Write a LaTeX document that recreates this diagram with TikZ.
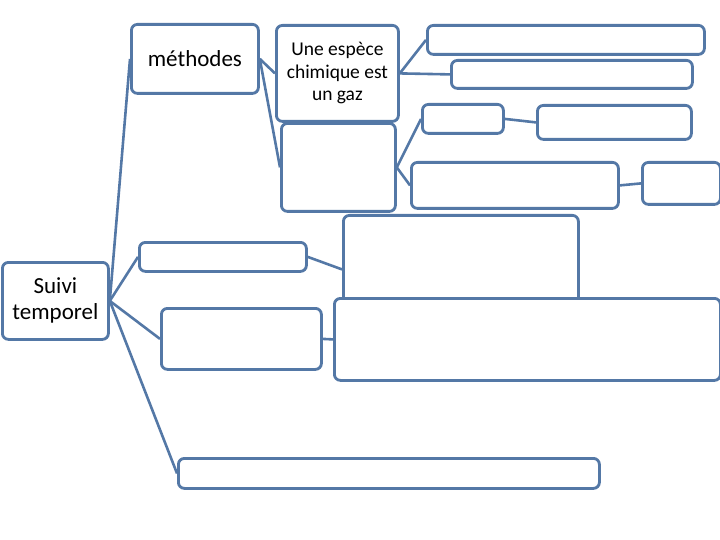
\documentclass[tikz,border=0pt]{standalone}
\usepackage{fontspec}
\setmainfont{Carlito}
\definecolor{edge}{RGB}{84,120,166}
\begin{document}
\begin{tikzpicture}[x=1pt,y=-1pt,
  box/.style={draw=edge,fill=white,line width=2.8pt,rounded corners=6pt,anchor=north west,inner sep=0pt},
  link/.style={draw=edge,line width=2.6pt}]
\useasboundingbox (0,0) rectangle (720,540);
% boxes: at (x,y) top-left, width, height
\node[box,minimum width=127pt,minimum height=69pt] (meth) at (130,23) {};
\node[font=\fontsize{23}{26}\selectfont] at (meth.center) {méthodes};
\node[box,minimum width=122pt,minimum height=96pt] (gaz) at (275,24) {};
\node[font=\fontsize{19.5}{22.5}\selectfont,align=center] at (gaz.center) {Une espèce\\chimique est\\un gaz};
\node[box,minimum width=114pt,minimum height=88pt] (vide) at (280,122) {};
\node[box,minimum width=277pt,minimum height=29pt] (b1) at (426,24) {};
\node[box,minimum width=241pt,minimum height=28pt] (b2) at (450,59) {};
\node[box,minimum width=81pt,minimum height=29pt] (b3) at (421,103) {};
\node[box,minimum width=154pt,minimum height=34pt] (b4) at (536,104) {};
\node[box,minimum width=207pt,minimum height=46pt] (b5) at (410,161) {};
\node[box,minimum width=78pt,minimum height=42pt] (b6) at (641,161) {};
\node[box,minimum width=235pt,minimum height=96pt] (bA) at (342,214) {};
\node[box,minimum width=386pt,minimum height=82pt] (bB) at (333,297) {};
\node[box,minimum width=106pt,minimum height=77pt] (suivi) at (1,261) {};
\node[font=\fontsize{23}{26}\selectfont,align=center] at (suivi.center) {Suivi\\temporel};
\node[box,minimum width=167pt,minimum height=29pt] (l1) at (138,241) {};
\node[box,minimum width=160pt,minimum height=61pt] (l2) at (160,307) {};
\node[box,minimum width=421pt,minimum height=30pt] (bas) at (177,457) {};
% connectors
\draw[link] (suivi.east) -- (meth.west);
\draw[link] (meth.east) -- (gaz.west);
\draw[link] (meth.east) -- (vide.west);
\draw[link] (gaz.east) -- (b1.west);
\draw[link] (gaz.east) -- (b2.west);
\draw[link] (vide.east) -- (b3.west);
\draw[link] (vide.east) -- (b5.west);
\draw[link] (b3.east) -- (b4.west);
\draw[link] (b5.east) -- (b6.west);
\draw[link] (suivi.east) -- (l1.west);
\draw[link] (suivi.east) -- (l2.west);
\draw[link] (suivi.east) -- (bas.west);
\draw[link] (l1.east) -- ([yshift=-6pt]bA.west);
\draw[link] (l2.east) -- (bB.west);
\end{tikzpicture}
\end{document}
